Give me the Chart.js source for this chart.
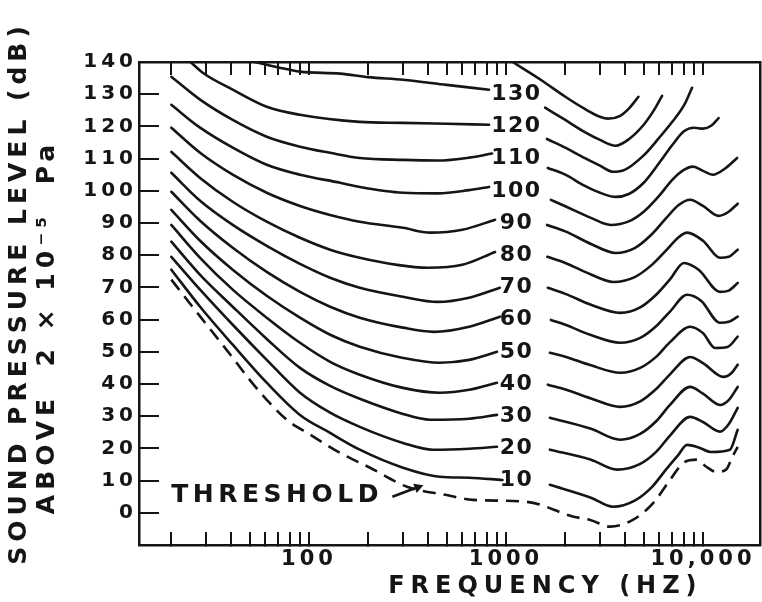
<!DOCTYPE html>
<html>
<head>
<meta charset="utf-8">
<script src="https://cdn.jsdelivr.net/npm/chart.js@4.4.1/dist/chart.umd.min.js"></script>
<style>
  html, body { margin: 0; padding: 0; background: #fff; }
</style>
</head>
<body>
<canvas id="myChart" width="762" height="602"></canvas>
<script>
const ink = "#151515";
const font = '"DejaVu Sans", sans-serif';

// [frequency Hz, sound pressure level dB]
// L = part left of the 1000 Hz label, R = part right of it
const c140R = [[1080,140],[1500,134.5],[2000,129.2],[2500,125.5],[3000,123],[3300,122.4],[3800,123.3],[4200,125.5],[4700,129.2]];
const c130L = [[53,140],[70,138.3],[90,137],[144,136.4],[200,135.3],[300,134.5],[500,132.9],[820,131.4]];
const c130R = [[1580,125.8],[2000,122],[2500,118.3],[3000,115.8],[3600,114],[4200,116],[5000,120.5],[5700,125.5],[6200,129.5]];
const c120L = [[25,140],[29,136.6],[41,131.4],[61,126.1],[90,123.6],[181,121.4],[300,121.1],[500,120.8],[820,120.5]];
const c120R = [[1615,116.1],[2000,113.4],[2500,110.2],[3000,107.8],[3500,105.9],[4000,106.5],[5000,111],[6000,116.5],[7000,121.5],[8000,126.5],[8800,132]];
const c110L = [[20,135.4],[28,128.3],[41,122],[61,116.8],[90,113.7],[128,111.8],[181,110.2],[300,109.6],[450,109.4],[650,110.3],[850,111.6]];
const c110R = [[1630,107.1],[2000,105],[2500,101.6],[3000,99.4],[3600,98.1],[4200,99],[5000,102.5],[6000,108.7],[7000,114.3],[8000,118.5],[9000,119.6],[10000,119.3],[11000,120.2],[12000,122.6]];
const c100L = [[20,126.7],[28,119.6],[41,113.4],[61,108.1],[90,105],[144,102.5],[181,101.2],[300,99.4],[450,99.2],[650,100.2],[820,101.2]];
const c100R = [[1690,97.2],[2000,95.2],[2700,91.6],[3400,89.4],[4200,90.5],[5000,93.5],[6000,98.5],[7000,103.5],[8000,106.5],[8900,107.5],[10000,106.2],[11200,105],[13000,107],[14900,110.2]];
const c90L = [[20,119.6],[28,111.8],[41,105],[61,99.4],[90,95.3],[128,92.5],[181,90.4],[300,88.5],[412,87],[600,87.9],[880,91]];
const c90R = [[1615,89.4],[2000,87.4],[2700,83.5],[3600,80.7],[4500,82.2],[5500,86.5],[6500,91.5],[7500,95.5],[8600,97.2],[10000,95.3],[12000,92.2],[13500,93.5],[15000,96]];
const c80L = [[20,112.1],[28,104],[41,96.6],[61,90.4],[90,85.4],[128,81.7],[181,79.2],[280,77],[400,76.1],[600,77],[880,81]];
const c80R = [[1620,79.5],[2000,77.6],[2700,74],[3500,71.7],[4500,73.2],[5500,77],[6500,81.5],[7500,85.5],[8300,87],[10000,84.5],[12200,79.2],[13500,79.5],[15000,81.7]];
const c70L = [[20,105.6],[28,96.9],[41,89.4],[61,82.9],[90,77.3],[128,73],[181,69.9],[300,67.1],[450,65.5],[650,66.8],[930,69.9]];
const c70R = [[1630,69.9],[2000,68],[2700,64.6],[3800,62.1],[4800,63.8],[5800,67.8],[6800,72.5],[8000,77.6],[9500,75.5],[12200,68.6],[13500,69],[15000,71.4]];
const c60L = [[20,99.7],[28,90.7],[41,82.3],[61,74.8],[90,68.6],[128,64],[181,60.6],[300,57.5],[430,56.2],[650,57.8],[930,60.9]];
const c60R = [[1690,59.9],[2000,58.4],[2700,55.2],[3800,52.8],[4800,54.3],[5800,58],[6800,62.5],[8300,67.7],[9800,65.8],[12200,59],[13500,59.3],[15000,60.9]];
const c50L = [[20,94.1],[28,84.5],[41,75.5],[61,67.4],[90,60.6],[128,55.3],[181,51.6],[300,48.1],[460,46.6],[650,47.5],[900,50]];
const c50R = [[1670,49.7],[2000,48.5],[2700,45.8],[3800,43.5],[4800,45],[5800,48.5],[6800,53],[8600,57.8],[10000,55.8],[11500,51.2],[13300,51.5],[15000,54.7]];
const c40L = [[20,89.4],[28,79.2],[41,69.3],[61,60.6],[90,52.8],[128,46.9],[181,42.9],[300,38.8],[460,37.3],[650,38.2],[900,40.4]];
const c40R = [[1630,39.8],[2000,38.3],[2700,35.5],[3800,32.9],[4800,34.6],[5800,38.5],[6800,43],[8600,48.4],[10000,46.5],[12700,42.2],[14000,43.5],[15000,46]];
const c30L = [[20,84.2],[28,73.9],[41,64],[61,54],[90,45],[128,39.4],[181,35.4],[300,30.7],[412,28.9],[650,29.2],[900,30.4]];
const c30R = [[1670,29.5],[2700,26.1],[3800,22.7],[4800,24.5],[5800,28.5],[6800,33.5],[8600,39.1],[10000,37],[12200,33.5],[13500,35],[15000,39.1]];
const c20L = [[20,79.5],[28,69.3],[41,58.4],[61,47.5],[90,37.3],[128,31.1],[181,26.7],[300,21.7],[426,19.6],[650,19.9],[900,20.5]];
const c20R = [[1670,19.6],[2700,16.5],[3660,13.4],[4800,15.2],[5800,19],[6800,24],[8600,29.8],[10000,28.2],[12200,25.2],[13500,27.5],[15000,32.6]];
const c10L = [[20,75.5],[28,64],[41,52.2],[61,40.4],[90,30.4],[128,24.8],[181,19.6],[300,14],[460,11.2],[650,10.9],[960,10.2]];
const c10R = [[1670,8.7],[2700,4.7],[3500,1.9],[4500,3.8],[5500,8],[6500,13.5],[7500,18],[8300,21.1],[9500,20.3],[11000,18.9],[13700,19.6],[15000,25.8]];
const threshold = [[20,72.4],[28,61],[40,49],[50,41.3],[61,35.1],[77,28.9],[100,24.5],[144,18.6],[204,14],[314,8.1],[500,5.5],[680,4],[1280,3.4],[2200,-1.2],[2680,-2.2],[3370,-4.3],[4400,-2.2],[5600,3.1],[6800,10.2],[7950,15.5],[9300,16.5],[10400,14.3],[11700,12.7],[13100,13.4],[14100,17.4],[15000,20.5]];

const labelLevels = [130, 120, 110, 100, 90, 80, 70, 60, 50, 40, 30, 20, 10];
const labelFreq = 1130;
const thresholdNote = [20, 5.3];
const thresholdArrow = [[265, 5], [345, 7.6]];

const xTickValues = [20,30,40,50,60,70,80,90,100,200,300,400,500,600,700,800,900,1000,2000,3000,4000,5000,6000,7000,8000,9000,10000];
const xTickLabels = { 100: "100", 1000: "1000", 10000: "10,000" };
const yTickValues = [0,10,20,30,40,50,60,70,80,90,100,110,120,130,140];
const yTitle = ["SOUND PRESSURE LEVEL (dB)", "ABOVE  2 \u00d7 10\u207b\u2075  Pa"];

let toPoints = (left, right) => {
  let pts = left.map((p) => ({ x: p[0], y: p[1] }));
  if (left.length && right.length) pts.push({ x: 1000, y: null });
  right.forEach((p) => pts.push({ x: p[0], y: p[1] }));
  return pts;
};

let curveSets = [
  [[], c140R], [c130L, c130R], [c120L, c120R], [c110L, c110R], [c100L, c100R],
  [c90L, c90R], [c80L, c80R], [c70L, c70R], [c60L, c60R], [c50L, c50R],
  [c40L, c40R], [c30L, c30R], [c20L, c20R], [c10L, c10R],
];

let lineStyle = {
  borderColor: ink,
  borderWidth: 2.6,
  pointRadius: 0,
  fill: false,
  spanGaps: false,
  cubicInterpolationMode: "monotone",
  borderCapStyle: "round",
  borderJoinStyle: "round",
};

let datasets = curveSets.map((c) => Object.assign({ data: toPoints(c[0], c[1]) }, lineStyle));
datasets.push(Object.assign({ data: toPoints(threshold, []) }, lineStyle, { borderDash: [13, 8], borderCapStyle: "butt" }));

const textPlugin = {
  id: "textPlugin",
  beforeDraw(chart) {
    // axis title is drawn before the datasets
    chart.ctx.letterSpacing = "6px";
  },
  afterDatasetsDraw(chart) {
    let ctx = chart.ctx;
    let x = chart.scales.x;
    let y = chart.scales.y;
    ctx.save();
    ctx.fillStyle = ink;
    ctx.strokeStyle = ink;
    ctx.textBaseline = "middle";

    // level labels on the curves
    ctx.font = "bold 22px " + font;
    ctx.letterSpacing = "1.5px";
    ctx.textAlign = "center";
    labelLevels.forEach((v) => {
      ctx.fillText(String(v), x.getPixelForValue(labelFreq), y.getPixelForValue(v));
    });

    // threshold note and arrow
    ctx.font = "bold 25px " + font;
    ctx.letterSpacing = "4.5px";
    ctx.textAlign = "left";
    ctx.fillText("THRESHOLD", x.getPixelForValue(thresholdNote[0]), y.getPixelForValue(thresholdNote[1]));
    let ax0 = x.getPixelForValue(thresholdArrow[0][0]);
    let ay0 = y.getPixelForValue(thresholdArrow[0][1]);
    let ax1 = x.getPixelForValue(thresholdArrow[1][0]);
    let ay1 = y.getPixelForValue(thresholdArrow[1][1]);
    ctx.lineWidth = 2.6;
    ctx.beginPath();
    ctx.moveTo(ax0, ay0);
    ctx.lineTo(ax1, ay1);
    ctx.stroke();
    let a = Math.atan2(ay1 - ay0, ax1 - ax0);
    ctx.beginPath();
    ctx.moveTo(ax1 + 9 * Math.cos(a), ay1 + 9 * Math.sin(a));
    ctx.lineTo(ax1 + 5 * Math.cos(a + Math.PI / 2), ay1 + 5 * Math.sin(a + Math.PI / 2));
    ctx.lineTo(ax1 + 5 * Math.cos(a - Math.PI / 2), ay1 + 5 * Math.sin(a - Math.PI / 2));
    ctx.closePath();
    ctx.fill();

    // two line y title, each line centred on its own
    ctx.font = "bold 25px " + font;
    ctx.letterSpacing = "5px";
    ctx.textAlign = "center";
    let titlePos = [[19.5, 293], [47.5, 327]];
    for (let i = 0; i < yTitle.length; i++) {
      ctx.save();
      ctx.translate(titlePos[i][0], titlePos[i][1]);
      ctx.rotate(-Math.PI / 2);
      ctx.fillText(yTitle[i], 0, 0);
      ctx.restore();
    }
    ctx.restore();
    // tick labels come next
    ctx.letterSpacing = "4px";
  },
};

let axisLine = { display: true, color: ink, width: 2.5 };

let config = {
  type: "line",
  data: { datasets },
  options: {
    responsive: false,
    animation: false,
    layout: { padding: 0 },
    plugins: { legend: { display: false }, tooltip: { enabled: false } },
    scales: {
      x: {
        type: "logarithmic",
        position: "bottom",
        min: 13.71,
        max: 19470,
        bounds: "data",
        border: axisLine,
        grid: { drawOnChartArea: false, tickLength: -13, color: ink, lineWidth: 2 },
        ticks: {
          autoSkip: false,
          maxRotation: 0,
          minRotation: 0,
          padding: 15,
          color: ink,
          font: { family: font, size: 21, weight: "bold" },
          callback: (v) => xTickLabels[v] || "",
          z: 1,
        },
        title: {
          display: true,
          text: "FREQUENCY (HZ)    ",
          align: "end",
          color: ink,
          font: { family: font, size: 24, weight: "bold" },
          padding: { top: 0, bottom: 1 },
        },
        afterBuildTicks: (s) => { s.ticks = xTickValues.map((v) => ({ value: v })); },
        afterFit: (s) => { s.height = 57; },
      },
      xTop: {
        type: "logarithmic",
        position: "top",
        min: 13.71,
        max: 19470,
        bounds: "data",
        border: axisLine,
        grid: { drawOnChartArea: false, tickLength: -13, color: ink, lineWidth: 2 },
        ticks: { autoSkip: false, maxRotation: 0, callback: () => "" },
        afterBuildTicks: (s) => { s.ticks = xTickValues.map((v) => ({ value: v })); },
        afterFit: (s) => { s.height = 62; },
      },
      y: {
        type: "linear",
        position: "left",
        min: -10,
        max: 140,
        bounds: "data",
        border: axisLine,
        grid: { drawOnChartArea: false, tickLength: -20, color: ink, lineWidth: 2 },
        ticks: {
          padding: 22,
          color: ink,
          font: { family: font, size: 20, weight: "bold" },
          callback: (v) => String(v),
          z: 1,
        },
        afterBuildTicks: (s) => { s.ticks = yTickValues.map((v) => ({ value: v })); },
        afterFit: (s) => { s.width = 139; },
      },
      yRight: {
        type: "linear",
        position: "right",
        min: -10,
        max: 140,
        border: axisLine,
        grid: { drawOnChartArea: false, drawTicks: false },
        ticks: { display: false },
        afterFit: (s) => { s.width = 2; },
      },
    },
  },
  plugins: [textPlugin],
};

let chart = new Chart(document.getElementById("myChart"), config);
</script>
</body>
</html>
